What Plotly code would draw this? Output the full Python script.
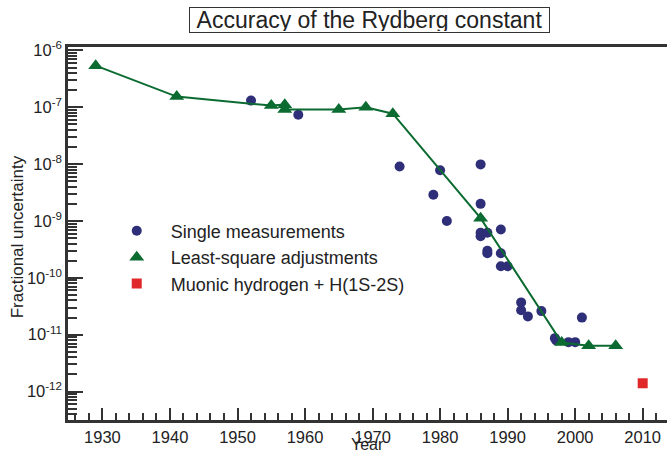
import plotly.graph_objects as go

# Single measurements
single_years = [1952, 1959, 1974, 1979, 1980, 1981, 1986, 1986, 1986, 1986, 1987, 1989,
                1987, 1987, 1989, 1989, 1990, 1992, 1992, 1993, 1995, 2001, 1997, 1997.2,
                1999, 2000]
single_vals = [1.31e-7, 7.4e-8, 9.1e-9, 2.9e-9, 7.8e-9, 1.0e-9, 9.9e-9, 2.0e-9, 6.2e-10,
               5.4e-10, 6.2e-10, 7.1e-10, 3.0e-10, 2.7e-10, 2.7e-10, 1.6e-10, 1.6e-10,
               3.7e-11, 2.7e-11, 2.1e-11, 2.6e-11, 2.0e-11, 8.7e-12, 7.9e-12, 7.4e-12, 7.4e-12]

# Least-square adjustments
lsq_years = [1929, 1941, 1955, 1957, 1957, 1965, 1969, 1973, 1986, 1998, 2002, 2006]
lsq_vals = [5.4e-7, 1.54e-7, 1.07e-7, 1.11e-7, 9.1e-8, 9.1e-8, 1.0e-7, 7.7e-8, 1.12e-9,
            7.3e-12, 6.4e-12, 6.4e-12]

# Muonic hydrogen + H(1S-2S)
muonic_years = [2010]
muonic_vals = [1.4e-12]

y_exponents = [-6, -7, -8, -9, -10, -11, -12]
x_ticks = [1930, 1940, 1950, 1960, 1970, 1980, 1990, 2000, 2010]
x_minor = [y for y in range(1926, 2014, 2) if y % 10 != 0]

FONT = "Liberation Sans, Arial, Helvetica, sans-serif"
TXT = "#222222"
DOT = "#2e2f78"
GREEN = "#0b6b30"
RED = "#e0282a"
AX = "#333333"

X_RANGE = [1924.9, 2013.6]
Y_RANGE = [-12.5, -5.94]

minor_y = [k * 10.0 ** e for e in range(-13, -5) for k in range(2, 10)]

fig = go.Figure()
fig.add_trace(go.Scatter(x=single_years, y=single_vals, mode="markers",
                         name="Single measurements",
                         marker=dict(symbol="circle", size=10, color=DOT)))
fig.add_trace(go.Scatter(x=lsq_years, y=lsq_vals, mode="lines", showlegend=False,
                         line=dict(color=GREEN, width=2)))
fig.add_trace(go.Scatter(x=lsq_years, y=lsq_vals, mode="markers",
                         name="Least-square adjustments",
                         marker=dict(symbol="triangle-up", size=13, color=GREEN)))
# drawn on the overlay axes that carry the minor ticks
fig.add_trace(go.Scatter(x=muonic_years, y=muonic_vals, mode="markers",
                         xaxis="x2", yaxis="y2",
                         name="Muonic hydrogen + H(1S-2S)",
                         marker=dict(symbol="square", size=10, color=RED)))

fig.update_layout(
    width=667, height=452,
    margin=dict(l=68, r=0, t=47, b=32),
    paper_bgcolor="white", plot_bgcolor="white",
    font=dict(family=FONT, color=TXT, size=16),
    showlegend=True,
    legend=dict(x=0.058, y=0.556, xanchor="left", yanchor="top",
                bgcolor="rgba(0,0,0,0)", font=dict(size=18, family=FONT, color=TXT),
                itemwidth=58, traceorder="normal"),
    xaxis=dict(range=X_RANGE, tickmode="array", tickvals=x_ticks,
               ticks="inside", ticklen=12,
               tickwidth=1.5, tickcolor=AX, showline=True, linecolor=AX, linewidth=2.5,
               mirror=True, showgrid=False, zeroline=False, automargin=False,
               tickfont=dict(size=16.5, family=FONT, color=TXT)),
    yaxis=dict(type="log", range=Y_RANGE, tickmode="array",
               tickvals=[10.0 ** e for e in y_exponents],
               ticktext=["10<sup>%d</sup>" % e for e in y_exponents],
               ticks="inside", ticklen=15, tickwidth=1.5, tickcolor=AX,
               showline=True, linecolor=AX, linewidth=2.5, showgrid=False, zeroline=False,
               automargin=False,
               tickfont=dict(size=16.5, family=FONT, color=TXT)),
    xaxis2=dict(overlaying="x", anchor="y2", side="bottom", range=X_RANGE,
                tickmode="array", tickvals=x_minor, ticks="inside", ticklen=7,
                tickwidth=1.5, tickcolor=AX, showticklabels=False, showline=False,
                showgrid=False, zeroline=False, automargin=False),
    yaxis2=dict(overlaying="y", anchor="x2", side="left", type="log", range=Y_RANGE,
                tickmode="array", tickvals=minor_y, ticks="inside", ticklen=9,
                tickwidth=1.5, tickcolor=AX, showticklabels=False, showline=False,
                showgrid=False, zeroline=False, automargin=False),
    annotations=[
        dict(text="Accuracy of the Rydberg constant", xref="paper", yref="paper",
             x=0.503, y=1.072, xanchor="center", yanchor="middle",
             showarrow=False, font=dict(size=23, family=FONT, color=TXT),
             width=357, height=22, bordercolor="#333333", borderwidth=1,
             borderpad=1, align="center"),
        dict(text="Year", xref="paper", yref="paper", x=0.5, y=-0.066,
             xanchor="center", yanchor="middle", showarrow=False,
             font=dict(size=16, family=FONT, color=TXT)),
        dict(text="Fractional uncertainty", xref="paper", yref="paper", x=-0.085, y=0.49,
             xanchor="center", yanchor="middle", textangle=-90, showarrow=False,
             font=dict(size=17, family=FONT, color=TXT)),
    ],
)

fig.write_html("out.html", config={"displayModeBar": False},
               post_script="document.body.style.margin='0px';")
